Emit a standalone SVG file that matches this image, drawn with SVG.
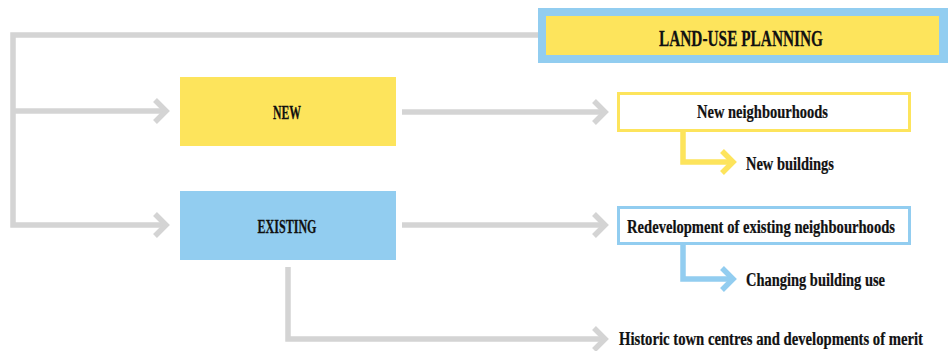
<svg xmlns="http://www.w3.org/2000/svg" width="948" height="351" viewBox="0 0 948 351">
  <style>
    .bg { fill: #ffffff; }
    .line { fill: none; stroke-width: 5.5; stroke-linejoin: miter; stroke-linecap: butt; }
    .gray { stroke: #d4d4d4; }
    .yel { stroke: #fde45c; }
    .blu { stroke: #92cdf0; }
    .lbl { font-family: "Liberation Serif", "Times New Roman", serif; font-weight: bold; fill: #111111; stroke: #111111; stroke-width: 0.25; }
    .fill-yel { fill: #fde45c; }
    .fill-blu { fill: #92cdf0; }
    .outline { fill: #ffffff; stroke-width: 3; }
  </style>
  <rect class="bg" x="0" y="0" width="948" height="351"/>

  <!-- connectors -->
  <g id="connectors">
    <!-- trunk from the title box down the left side -->
    <polyline class="line gray" points="540,35 13,35 13,225 165,225"/>
    <polyline class="line gray" points="13,111 165,111"/>
    <polyline class="line gray" points="155,100 166,111 155,122"/>
    <polyline class="line gray" points="155,214 166,225 155,236"/>
    <!-- category to outcome -->
    <polyline class="line gray" points="402,112 604,112"/>
    <polyline class="line gray" points="594,101 605,112 594,123"/>
    <polyline class="line gray" points="402,225 604,225"/>
    <polyline class="line gray" points="594,214 605,225 594,236"/>
    <polyline class="line gray" points="288,267 288,339 604,339"/>
    <polyline class="line gray" points="594,328 605,339 594,350"/>
    <!-- outcome sub-branches -->
    <polyline class="line yel" points="683,131 683,162 733,162"/>
    <polyline class="line yel" points="722,151 733,162 722,173"/>
    <polyline class="line blu" points="683,244 683,279 733,279"/>
    <polyline class="line blu" points="722,268 733,279 722,290"/>
  </g>

  <!-- condensed lettering: horizontal scale on a serif bold face -->
  <g id="land-use-planning">
    <rect class="fill-blu" x="538" y="8" width="410" height="55"/>
    <rect class="fill-yel" x="546" y="16" width="393" height="39"/>
    <g transform="translate(741,46) scale(0.667,1)">
      <text class="lbl" x="0" y="0" font-size="23" text-anchor="middle" textLength="246" lengthAdjust="spacingAndGlyphs">LAND-USE PLANNING</text>
    </g>
  </g>

  <g id="new">
    <rect class="fill-yel" x="180" y="77" width="216" height="69"/>
    <g transform="translate(287,119) scale(0.66,1)">
      <text class="lbl" x="0" y="0" font-size="18" text-anchor="middle" textLength="42.4" lengthAdjust="spacingAndGlyphs">NEW</text>
    </g>
  </g>

  <g id="existing">
    <rect class="fill-blu" x="180" y="191" width="216" height="69"/>
    <g transform="translate(287,233) scale(0.66,1)">
      <text class="lbl" x="0" y="0" font-size="18" text-anchor="middle" textLength="89.4" lengthAdjust="spacingAndGlyphs">EXISTING</text>
    </g>
  </g>

  <g id="new-neighbourhoods">
    <rect class="outline yel" x="618.5" y="93.5" width="291" height="37"/>
    <g transform="translate(762.5,118) scale(0.765,1)">
      <text class="lbl" x="0" y="0" font-size="19" text-anchor="middle" textLength="171.2" lengthAdjust="spacingAndGlyphs">New neighbourhoods</text>
    </g>
  </g>

  <g id="new-buildings">
    <g transform="translate(746,170) scale(0.765,1)">
      <text class="lbl" x="0" y="0" font-size="19" textLength="115" lengthAdjust="spacingAndGlyphs">New buildings</text>
    </g>
  </g>

  <g id="redevelopment">
    <rect class="outline blu" x="618.5" y="207.5" width="291" height="36"/>
    <g transform="translate(761,233) scale(0.765,1)">
      <text class="lbl" x="0" y="0" font-size="19" text-anchor="middle" textLength="350.3" lengthAdjust="spacingAndGlyphs">Redevelopment of existing neighbourhoods</text>
    </g>
  </g>

  <g id="changing-building-use">
    <g transform="translate(746,286) scale(0.765,1)">
      <text class="lbl" x="0" y="0" font-size="19" textLength="181.7" lengthAdjust="spacingAndGlyphs">Changing building use</text>
    </g>
  </g>

  <g id="historic-centres">
    <g transform="translate(619,345) scale(0.765,1)">
      <text class="lbl" x="0" y="0" font-size="19" textLength="397.4" lengthAdjust="spacingAndGlyphs">Historic town centres and developments of merit</text>
    </g>
  </g>
</svg>
